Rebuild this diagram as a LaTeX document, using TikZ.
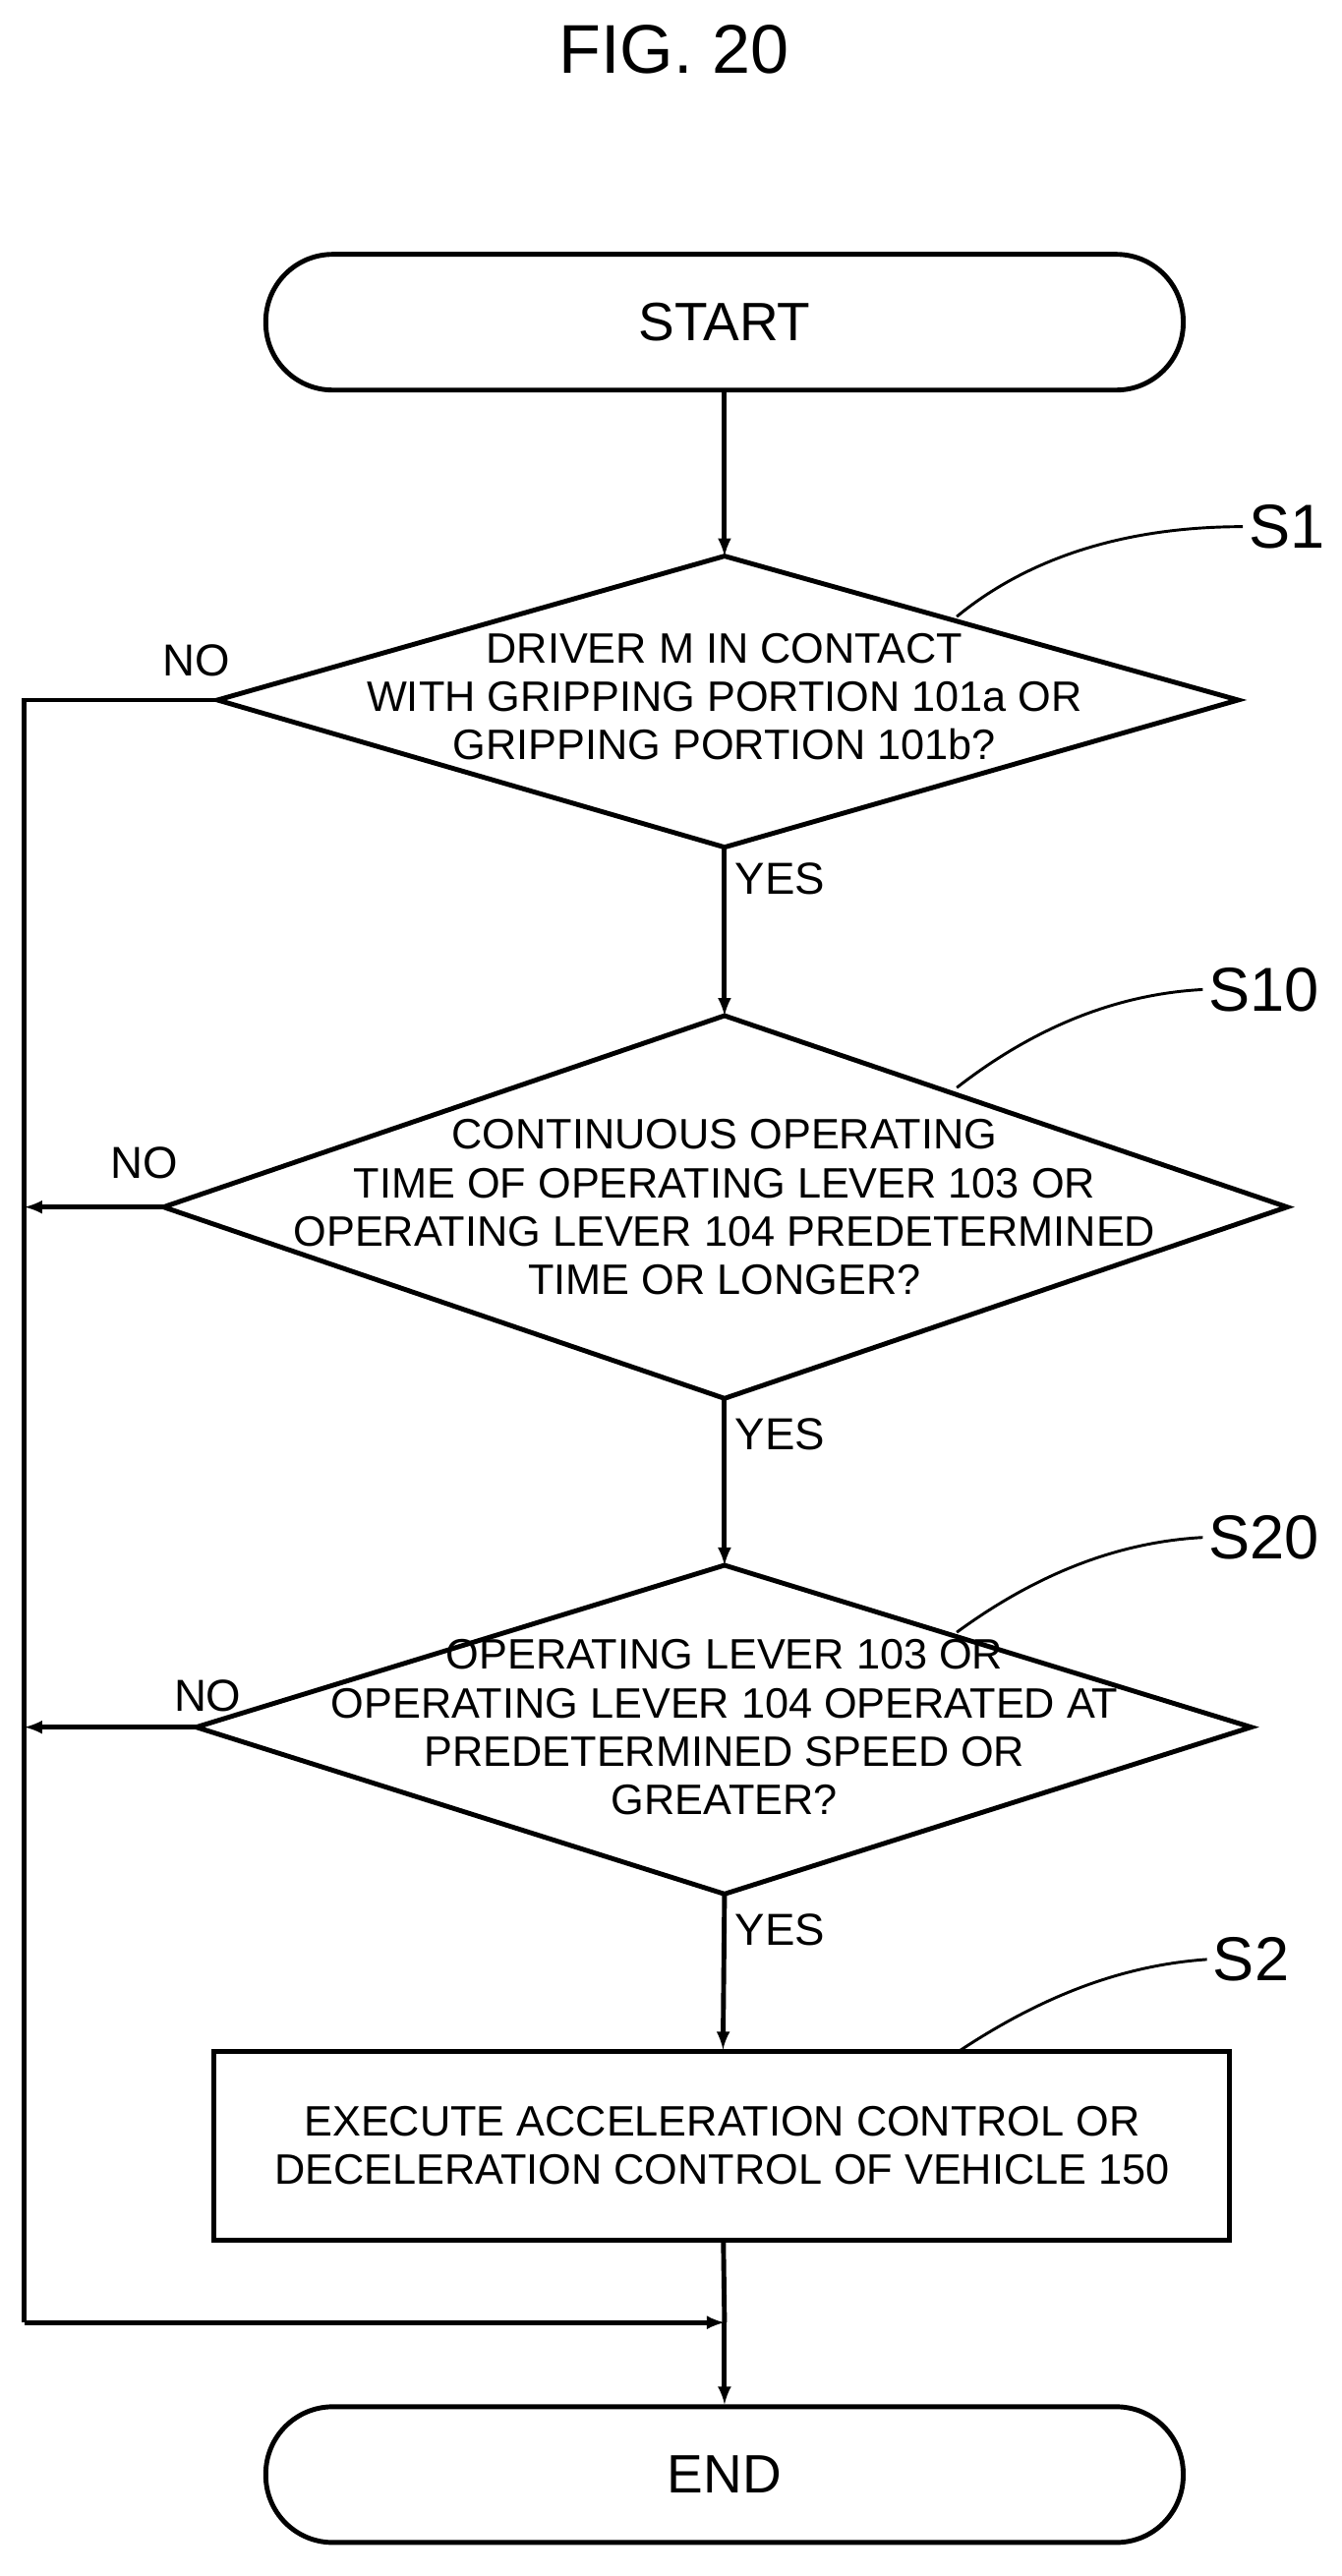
\documentclass[tikz,border=0pt]{standalone}
\usepackage{fontspec}
\setmainfont{Liberation Sans}
\usetikzlibrary{positioning}
\begin{document}
\begin{tikzpicture}[x=0.05cm,y=-0.05cm,line width=4.2pt,
  txt/.style={font=\fontsize{37}{42}\selectfont,align=center},
  lbl/.style={font=\fontsize{39}{42}\selectfont},
  stp/.style={font=\fontsize{54}{58}\selectfont},
  term/.style={draw,rounded corners=2.05cm,minimum width=28.05cm,minimum height=4.15cm,font=\fontsize{47}{50}\selectfont}]
\useasboundingbox (0,0) rectangle (820,1575);

\node[font=\fontsize{60}{64}\selectfont] (title) at (412,30) {FIG. 20};

\node[term] (start) at (443,197) {START};
\node[term] (end) at (443,1513) {END};

% diamonds
\coordinate (s1t) at (443,340); \coordinate (s1b) at (443,518);
\coordinate (s1l) at (133,428); \coordinate (s1r) at (757,428);
\draw (s1t) -- (s1r) -- (s1b) -- (s1l) -- cycle;
\node[txt] (s1) at (443,426) {DRIVER M IN CONTACT\\WITH GRIPPING PORTION 101a OR\\GRIPPING PORTION 101b?};

\coordinate (s10t) at (443,621); \coordinate (s10b) at (443,855);
\coordinate (s10l) at (100,738); \coordinate (s10r) at (787,738);
\draw (s10t) -- (s10r) -- (s10b) -- (s10l) -- cycle;
\node[txt] (s10) at (443,738) {CONTINUOUS OPERATING\\TIME OF OPERATING LEVER 103 OR\\OPERATING LEVER 104 PREDETERMINED\\TIME OR LONGER?};

\coordinate (s20t) at (443,957); \coordinate (s20b) at (443,1158);
\coordinate (s20l) at (120,1056); \coordinate (s20r) at (765,1056);
\draw (s20t) -- (s20r) -- (s20b) -- (s20l) -- cycle;
\node[txt] (s20) at (443,1056) {OPERATING LEVER 103 OR\\OPERATING LEVER 104 OPERATED AT\\PREDETERMINED SPEED OR\\GREATER?};

\node[draw,txt,minimum width=31.05cm,minimum height=5.75cm] (s2) at (441.5,1312) {EXECUTE ACCELERATION CONTROL OR\\DECELERATION CONTROL OF VEHICLE 150};

% step labels
\node[stp] (l1) at (787,322) {S1};
\node[stp] (l10) at (773,605) {S10};
\node[stp] (l20) at (773,940) {S20};
\node[stp] (l2) at (765,1198) {S2};
\draw[line width=2.5pt] (585,377) .. controls (630,340) and (690,322) .. (l1.west);
\draw[line width=2.5pt] (585,665) .. controls (630,630) and (680,608) .. (l10.west);
\draw[line width=2.5pt] (585,998) .. controls (630,965) and (680,943) .. (l20.west);
\draw[line width=2.5pt] (585,1255) .. controls (630,1225) and (680,1202) .. (l2.west);

% flow
\draw[-latex] (start) -- (s1t);
\draw[-latex] (s1b) -- (s10t);
\draw[-latex] (s10b) -- (s20t);
\draw[-latex] (s20b) -- (s2);
\coordinate (join) at (443,1420);
\coordinate (lft1) at (15,428); \coordinate (lft2) at (15,738);
\coordinate (lft3) at (15,1056); \coordinate (lft4) at (15,1420);
\draw (s2) -- (join);
\draw[-latex] (join) -- (end);
\draw (s1l) -- (lft1) -- (lft4);
\draw[-latex] (lft4) -- (join);
\draw[-latex] (s10l) -- (lft2);
\draw[-latex] (s20l) -- (lft3);

\node[lbl] (no1) at (120,404) {NO};
\node[lbl] (no2) at (88,711) {NO};
\node[lbl] (no3) at (127,1037) {NO};
\node[lbl] (y1) at (477,537) {YES};
\node[lbl] (y2) at (477,877) {YES};
\node[lbl] (y3) at (477,1180) {YES};
\end{tikzpicture}
\end{document}
